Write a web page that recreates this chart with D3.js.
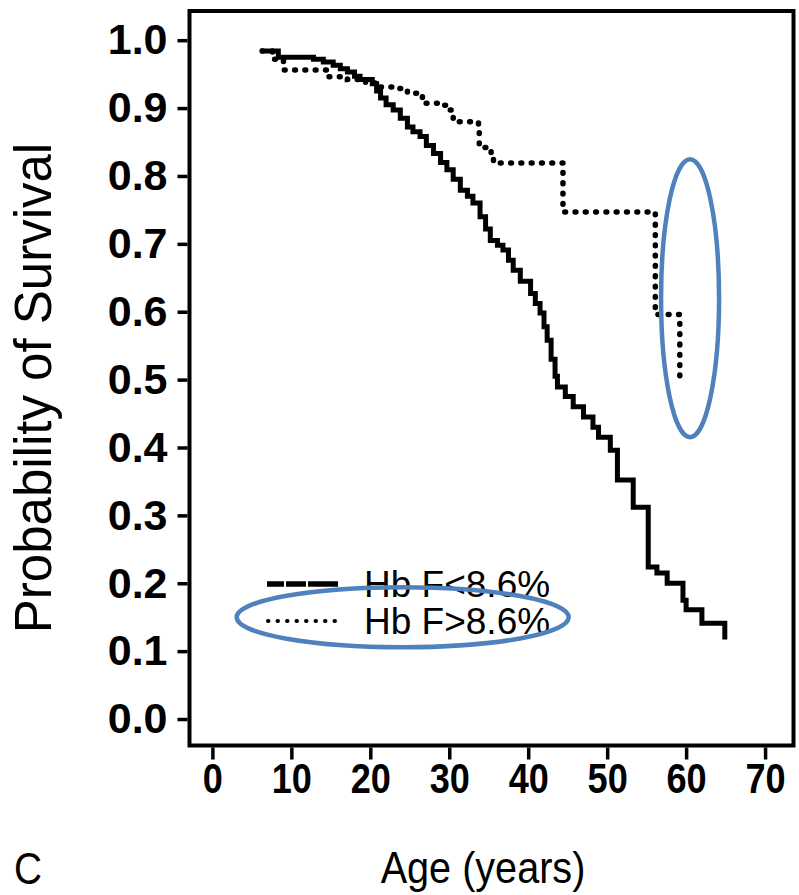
<!DOCTYPE html>
<html>
<head>
<meta charset="utf-8">
<script src="https://cdn.jsdelivr.net/npm/d3@7"></script>
<style>
  body { margin: 0; background: #fff; }
  svg { display: block; font-family: "Liberation Sans", Arial, Helvetica, sans-serif; }
</style>
</head>
<body>
<div class="chart"></div>
<script>
(function(){

// Kaplan-Meier curves (age in years, survival)
var lowAge  = [6.1, 8.35, 12.8, 14.05, 15.3, 16.2, 17.1, 18.0, 18.7, 20.25, 20.8, 21.3, 22.0, 22.9, 23.8, 24.7, 25.4, 26.3, 27.1, 28.0, 28.9, 29.7, 30.5, 31.4, 32.3, 33.0, 33.9, 34.6, 35.2, 36.1, 36.8, 37.5, 38.1, 39.0, 40.3, 40.9, 41.5, 42.0, 42.4, 42.9, 43.4, 43.7, 44.7, 45.7, 47.0, 48.2, 48.9, 50.4, 51.3, 53.3, 55.2, 56.3, 57.6, 59.6, 60.0, 62.0, 64.9];
var lowSurv = [0.984, 0.975, 0.972, 0.968, 0.963, 0.958, 0.953, 0.947, 0.942, 0.936, 0.925, 0.915, 0.905, 0.897, 0.885, 0.872, 0.865, 0.858, 0.845, 0.833, 0.820, 0.809, 0.795, 0.779, 0.770, 0.760, 0.740, 0.722, 0.705, 0.698, 0.691, 0.676, 0.661, 0.645, 0.627, 0.612, 0.598, 0.578, 0.558, 0.530, 0.505, 0.489, 0.475, 0.460, 0.445, 0.430, 0.415, 0.396, 0.352, 0.312, 0.224, 0.215, 0.200, 0.175, 0.161, 0.141, 0.117];

var highAge  = [6.3, 7.6, 9.0, 14.6, 17.1, 19.4, 21.3, 23.4, 24.7, 26.3, 26.6, 29.2, 30.1, 30.5, 33.0, 33.7, 33.8, 35.3, 35.6, 44.4, 56.1, 59.2];
var highSurv = [0.984, 0.972, 0.956, 0.946, 0.942, 0.937, 0.931, 0.929, 0.922, 0.918, 0.907, 0.904, 0.897, 0.880, 0.878, 0.872, 0.842, 0.833, 0.819, 0.747, 0.596, 0.499];

var xTicks = [0, 10, 20, 30, 40, 50, 60, 70];
var yTicks = [0, 0.1, 0.2, 0.3, 0.4, 0.5, 0.6, 0.7, 0.8, 0.9, 1.0];
var legendLabels = ["Hb F<8.6%", "Hb F>8.6%"];

var width = 799,
    height = 895;

var svg = d3.select(".chart")
    .append("svg")
    .attr("width", width)
    .attr("height", height);

svg.append("rect")
    .attr("width", width)
    .attr("height", height)
    .attr("fill", "#fff");

var x = d3.scaleLinear()
    .domain([-2.9, 73.6])
    .range([189.5, 793.5]);

var y = d3.scaleLinear()
    .domain([-0.039, 1.043])
    .range([745.5, 11]);

// frame
svg.append("rect")
    .attr("x", x.range()[0])
    .attr("y", y.range()[1])
    .attr("width", x.range()[1] - x.range()[0])
    .attr("height", y.range()[0] - y.range()[1])
    .attr("fill", "none")
    .attr("stroke", "#000")
    .attr("stroke-width", 4);

// axes
var yAxis = svg.append("g")
    .attr("transform", "translate(" + (x.range()[0] - 2) + ",0)")
    .call(d3.axisLeft(y).tickValues(yTicks).tickSize(10).tickPadding(10).tickFormat(d3.format(".1f")));

var xAxis = svg.append("g")
    .attr("transform", "translate(0," + (y.range()[0] + 2) + ")")
    .call(d3.axisBottom(x).tickValues(xTicks).tickSize(12).tickPadding(4).tickFormat(d3.format("d")));

[yAxis, xAxis].forEach(function(ax){
    ax.select(".domain").remove();
    ax.selectAll(".tick line").attr("stroke", "#000").attr("stroke-width", 3.5);
    ax.selectAll(".tick text")
        .attr("fill", "#000")
        .style("font-size", "43px")
        .style("font-weight", "bold")
        .style("font-family", "'Liberation Sans', Arial, sans-serif");
});
// x tick labels are narrower in the original
xAxis.selectAll(".tick text")
    .style("font-size", "42px")
    .attr("transform", "scale(0.86,1)");

// curves
var line = d3.line()
    .x(function(d){ return x(d[0]); })
    .y(function(d){ return y(d[1]); })
    .curve(d3.curveStepAfter);

var lowData = d3.zip(lowAge, lowSurv);
var highData = d3.zip(highAge, highSurv);

svg.append("path")
    .datum(highData)
    .attr("d", line)
    .attr("fill", "none")
    .attr("stroke", "#000")
    .attr("stroke-width", 5.5)
    .attr("stroke-linecap", "round")
    .attr("stroke-dasharray", "0.8,9.5");

svg.append("path")
    .datum(lowData)
    .attr("d", line)
    .attr("fill", "none")
    .attr("stroke", "#000")
    .attr("stroke-width", 5);

// legend
var legend = svg.append("g");
var legendY = [584, 621];

legend.append("line")
    .attr("x1", 267).attr("x2", 338)
    .attr("y1", legendY[0]).attr("y2", legendY[0])
    .attr("stroke", "#000")
    .attr("stroke-width", 5.5)
    .attr("stroke-dasharray", "17,2,20,2,40");

legend.append("line")
    .attr("x1", 268).attr("x2", 337)
    .attr("y1", legendY[1]).attr("y2", legendY[1])
    .attr("stroke", "#000")
    .attr("stroke-width", 4)
    .attr("stroke-linecap", "round")
    .attr("stroke-dasharray", "0.5,9");

legend.selectAll("text")
    .data(legendLabels)
    .enter()
    .append("text")
    .attr("x", 364)
    .attr("y", function(d, i){ return legendY[i] + 13; })
    .attr("fill", "#000")
    .style("font-size", "37px")
    .text(function(d){ return d; });

// annotation ellipses (blue)
svg.append("ellipse")
    .attr("cx", x(60.5))
    .attr("cy", y(0.62))
    .attr("rx", 29)
    .attr("ry", 139)
    .attr("fill", "none")
    .attr("stroke", "#4f81bd")
    .attr("stroke-width", 4.5);

svg.append("ellipse")
    .attr("cx", x(24.1))
    .attr("cy", y(0.15))
    .attr("rx", 166)
    .attr("ry", 30)
    .attr("fill", "none")
    .attr("stroke", "#4f81bd")
    .attr("stroke-width", 4.5);

// titles
svg.append("text")
    .attr("transform", "translate(51,388) rotate(-90)")
    .attr("text-anchor", "middle")
    .attr("fill", "#000")
    .style("font-size", "51px")
    .text("Probability of Survival");

svg.append("text")
    .attr("transform", "translate(483,883) scale(0.88,1)")
    .attr("text-anchor", "middle")
    .attr("fill", "#000")
    .style("font-size", "45px")
    .text("Age (years)");

svg.append("text")
    .attr("transform", "translate(14,884) scale(0.88,1)")
    .attr("fill", "#000")
    .style("font-size", "44px")
    .text("C");

})();
</script>
</body>
</html>
